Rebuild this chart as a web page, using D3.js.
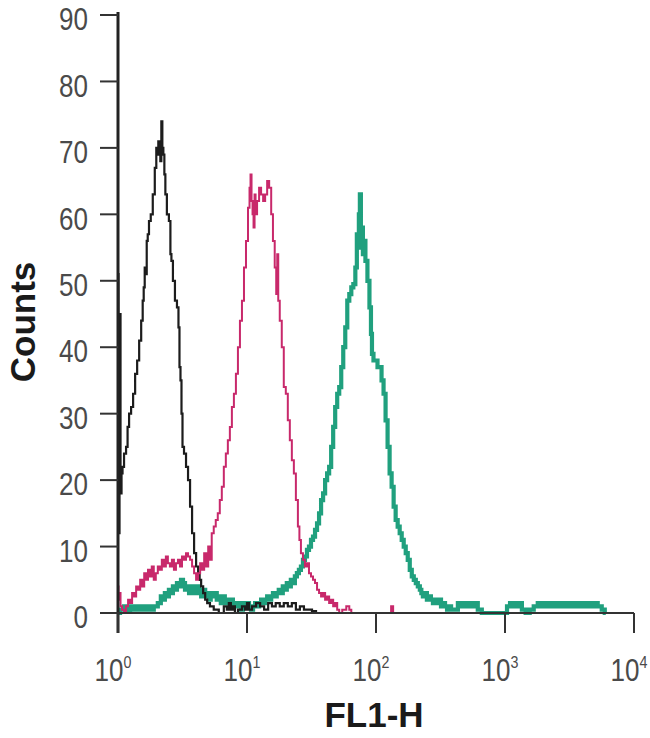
<!DOCTYPE html>
<html>
<head>
<meta charset="utf-8">
<script src="https://cdn.jsdelivr.net/npm/d3@7"></script>
<style>
  html, body { margin: 0; padding: 0; background: #ffffff; }
  svg { display: block; }
</style>
</head>
<body>
<svg id="chart" width="650" height="738"></svg>
<script>
// ---- data: FACS channels (1024 channels over 4 decades) and counts ----
const yTicks = [0, 10, 20, 30, 40, 50, 60, 70, 80, 90];
const xDecades = [0, 1, 2, 3, 4];
const xLabel = "FL1-H";
const yLabel = "Counts";

const isotypeChannels = [0,2,4,6,8,10,14,18,20,24,28,32,36,40,44,48,50,52,54,56,58,60,63,67,71,75,77,79,81,83,85,87,89,91,93,95,99,103,105,107,111,115,119,121,123,125,127,129,133,137,141,145,149,153,157,161,163,167,171,175,179,186,194,206,214,218,222,226,230,234,242,250,254,258,262,270,278,286,294,302,309,317,325,333,341,349,357,365,373,381,389,397,450];
const isotypeCounts   = [51,12,45,18,21,22,24,25,28,30,31,33,36,38,41,44,47,49,52,51,56,57,59,60,63,67,70,69,71,70,68,74,70,69,66,63,60,59,54,53,50,47,46,43,37,35,30,25,24,22,20,16,12,9,7,6,5,4,3,2,1.5,1,0.5,0,1,0.5,1.5,0.5,1,0,0.5,1,0.5,1.5,0.5,1,1.5,1,0.5,1.5,1,1.5,1,1.5,1,1.5,0.5,1,0.5,0.5,0.3,0,0];

const lowChannels = [0,2,4,6,10,14,18,22,26,30,34,38,42,46,50,54,58,61,65,69,73,77,81,85,89,93,97,101,105,109,113,117,121,125,129,133,137,141,145,149,153,157,161,165,169,173,177,181,184,188,192,196,200,204,208,212,216,220,224,228,232,236,240,244,248,252,256,260,262,264,266,268,270,272,274,278,282,286,290,294,298,302,306,309,313,315,317,319,323,327,331,335,339,343,347,351,355,359,361,365,369,373,377,381,385,389,393,397,401,405,409,413,417,421,425,429,433,437,441,449,457,461,465,540,544,548,659];
const lowCounts   = [4,2,3,1,0.5,0,1,2,1.5,3,2.5,4,3.5,5,4,6,5,6.5,5.5,7,5,6,7,6.5,8,7,8.5,7.5,7,8,6.5,7.5,8,7,8.5,8,9,8.5,8,7,6,5,6,7.5,6.5,9,7,10,8,12,13,14,15,17,19,22,24,26,28,31,33,36,40,44,47,52,56,61,64,66,62,60,58,63,60,62,64,63,62,63,65,64,60,56,52,48,54,47,44,40,34,33,29,26,23,21,17,13,11,9,8,7,7.5,6,5.5,5,4.5,3.5,3,2.5,3,2,2.5,1.5,2,1,1.5,0.5,0,0.5,1,0.5,0,0,1,0,0];

const highChannels = [0,8,16,20,28,36,44,52,60,67,75,83,87,91,95,99,103,107,111,115,119,123,127,131,135,139,143,147,151,155,159,163,167,171,175,179,182,186,190,194,198,202,206,210,214,218,222,226,230,234,238,242,246,250,254,258,262,266,270,274,278,282,286,290,294,298,302,306,309,313,317,321,325,329,333,337,341,345,349,353,357,361,365,369,373,377,381,385,389,393,397,401,405,409,413,417,421,425,429,433,437,441,445,449,453,457,461,465,469,473,475,477,479,481,483,485,487,489,493,497,501,503,505,509,513,517,521,525,529,533,537,541,545,549,553,557,561,565,569,573,577,581,585,589,593,597,601,603,607,611,615,619,623,627,631,635,639,643,647,651,655,659,663,671,678,686,694,702,710,718,726,770,774,782,790,798,805,813,821,829,837,845,853,861,869,877,885,893,901,909,917,925,932,940,948,956,964,968];
const highCounts   = [0,0.5,1,0.3,1,0.5,1,0.5,1,0.5,1,1.5,2.5,2,3,2.5,3.5,3,4,3.5,4.5,4,5,4.5,3.5,4,3,3.5,4,3,4,3.5,2.5,3.5,2.5,3,2,3,2.5,3,2,2.5,1.5,2.5,1.5,2,1.5,2,1,1.5,1,1.5,0.5,1.5,1,1.5,1,0.5,1,1.5,1,1.5,2,1.5,2,2.5,2,2.5,3,2.5,3,3.5,3,4,3.5,4.5,4,5,4.5,5.5,6,6.5,7,8,8.5,9.5,10,11,11.5,12.5,13.5,15,17,18,20,21,22,25,28,31,33,34,37,40,43,47,48,49,49.5,52,57,55,60,63,57,58,54,56,53,50,46,42,39,38,38,37,37,35,33,29,25,21,19,16,14,13,12,11,10,9,8,6.5,5.5,5,4.5,4,3.5,3,2.5,3,2,2.5,2,1.5,2,1.5,2,1,1.5,1,0.5,1,0.5,0.5,1.5,1,1.5,1,1.5,0.5,0,0,1,1.5,1,1.5,0.5,0,0.5,1,1.5,1,1.5,1,1.5,1,1.5,1,1.5,1,1.5,1,1.5,1,1.5,1,0.5,0];

const seriesList = [
  { name: "high",    channels: highChannels,    counts: highCounts,    color: "#20a07e", width: 4.2 },
  { name: "isotype", channels: isotypeChannels, counts: isotypeCounts, color: "#1c1c1c", width: 2.2 },
  { name: "low",     channels: lowChannels,     counts: lowCounts,     color: "#c8296b", width: 2.0 }
];

// ---- scales ----
const svg = d3.select("#chart");
const x = d3.scaleLog().domain([1, 1e4]).range([118, 634]);
const y = d3.scaleLinear().domain([0, 90]).range([613, 15]);
const chToValue = ch => Math.pow(10, ch / 256);

const tickFont = "'Liberation Sans', Arial, sans-serif";
const tickColor = "#4a4a4a";
const narrow = 0.84;

// ---- curves ----
const line = d3.line()
  .x(d => x(chToValue(d[0])))
  .y(d => y(d[1]))
  .curve(d3.curveStep);

seriesList.forEach(s => {
  const pts = s.channels.map((c, i) => [c, s.counts[i]]);
  svg.append("path")
    .attr("d", line(pts))
    .attr("fill", "none")
    .attr("stroke", s.color)
    .attr("stroke-width", s.width)
    .attr("stroke-linejoin", "miter");
});

// ---- y axis ----
const yAxis = svg.append("g").attr("class", "y-axis");
yAxis.append("line")
  .attr("x1", x(1)).attr("x2", x(1))
  .attr("y1", y(90) - 3).attr("y2", y(0) + 20)
  .attr("stroke", "#222").attr("stroke-width", 3);
yAxis.selectAll("line.tick").data(yTicks).enter().append("line")
  .attr("class", "tick")
  .attr("x1", x(1) - 18).attr("x2", x(1))
  .attr("y1", d => y(d)).attr("y2", d => y(d))
  .attr("stroke", "#333").attr("stroke-width", 2);
yAxis.selectAll("text").data(yTicks).enter().append("text")
  .attr("transform", d => `translate(${x(1) - 30},${y(d)}) scale(${narrow},1)`)
  .attr("dy", "0.49em")
  .attr("text-anchor", "end")
  .attr("font-family", tickFont)
  .attr("font-size", 31)
  .attr("fill", tickColor)
  .text(d => d);

// ---- x axis ----
const xAxis = svg.append("g").attr("class", "x-axis");
xAxis.append("line")
  .attr("x1", x(1)).attr("x2", x(1e4))
  .attr("y1", y(0)).attr("y2", y(0))
  .attr("stroke", "#333").attr("stroke-width", 2);
xAxis.selectAll("line.tick").data(xDecades).enter().append("line")
  .attr("class", "tick")
  .attr("x1", d => x(Math.pow(10, d))).attr("x2", d => x(Math.pow(10, d)))
  .attr("y1", y(0)).attr("y2", y(0) + 20)
  .attr("stroke", "#333").attr("stroke-width", 2);
const xt = xAxis.selectAll("text").data(xDecades).enter().append("text")
  .attr("transform", d => `translate(${x(Math.pow(10, d)) - 5},${y(0) + 68}) scale(${narrow},1)`)
  .attr("text-anchor", "middle")
  .attr("font-family", tickFont)
  .attr("fill", tickColor);
xt.append("tspan").attr("font-size", 31).text("10");
xt.append("tspan").attr("font-size", 17).attr("dy", -13).text(d => d);

// ---- axis titles ----
svg.append("text")
  .attr("transform", "translate(35,322) rotate(-90)")
  .attr("text-anchor", "middle")
  .attr("font-family", "'Liberation Sans', Arial, sans-serif")
  .attr("font-weight", "bold")
  .attr("font-size", 35)
  .attr("fill", "#1a1a1a")
  .text(yLabel);

svg.append("text")
  .attr("x", 374)
  .attr("y", 727)
  .attr("text-anchor", "middle")
  .attr("font-family", "'Liberation Sans', Arial, sans-serif")
  .attr("font-weight", "bold")
  .attr("font-size", 35)
  .attr("fill", "#1a1a1a")
  .text(xLabel);
</script>
</body>
</html>
